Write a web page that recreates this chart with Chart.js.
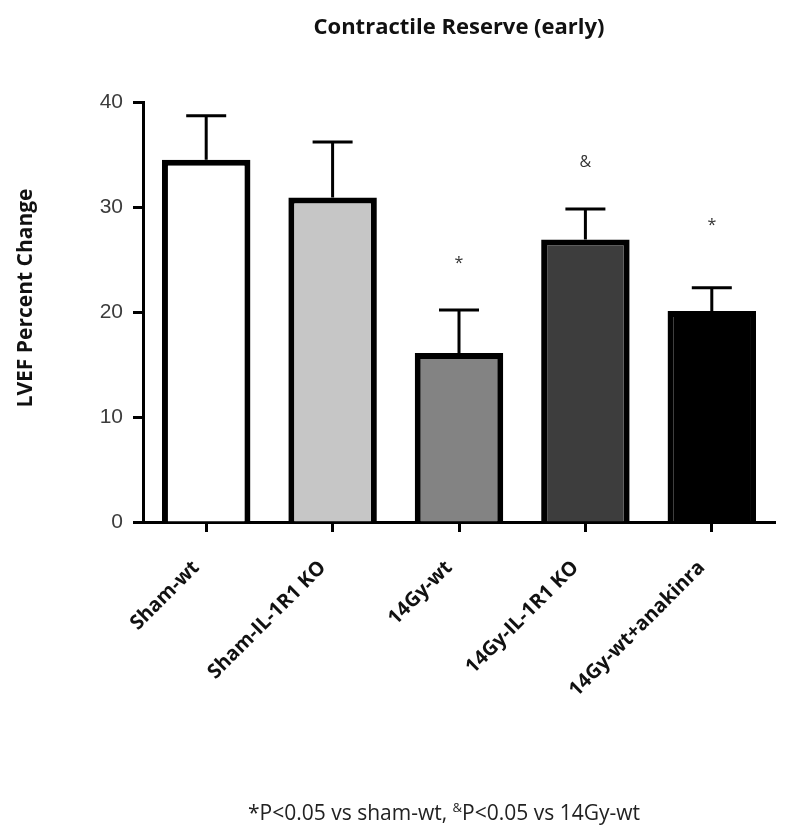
<!DOCTYPE html>
<html lang="en">

<head>
  <meta charset="UTF-8" />
  <meta name="viewport" content="width=device-width, initial-scale=1.0" />
  <title>Contractile Reserve (early)</title>
  <script src="https://cdn.jsdelivr.net/npm/chart.js"></script>
  <style>
    html,
    body {
      margin: 0;
      padding: 0;
      background-color: #ffffff;
    }

    .chart-box {
      width: 792px;
      height: 838px;
      position: relative;
    }
  </style>
</head>

<body>
  <div class="chart-box">
    <canvas id="reserveChart" width="792" height="838"></canvas>
  </div>

  <script>
    // values (LVEF percent change)
    const groups = ['Sham-wt', 'Sham-IL-1R1 KO', '14Gy-wt', '14Gy-IL-1R1 KO', '14Gy-wt+anakinra'];
    const meanChange = [34.5, 30.9, 16.1, 26.9, 20.1];
    const errorTop = [38.7, 36.2, 20.2, 29.8, 22.3];
    const sigMarks = ['', '', '*', '&', '*'];
    const sigLevel = [null, null, 24.6, 34.2, 28.2];
    const yTicks = [0, 10, 20, 30, 40];

    const LABEL_FONT = "'Open Sans', 'DejaVu Sans', sans-serif";

    // SEM whiskers + significance marks above each bar
    const errorBars = {
      id: 'errorBars',
      afterDatasetsDraw(chart) {
        const { ctx } = chart;
        const y = chart.scales.y;
        const meta = chart.getDatasetMeta(0);
        ctx.save();
        ctx.strokeStyle = '#000000';
        ctx.lineWidth = 3;
        meta.data.forEach((bar, i) => {
          const top = y.getPixelForValue(errorTop[i]);
          ctx.beginPath();
          ctx.moveTo(bar.x, bar.y);
          ctx.lineTo(bar.x, top);
          ctx.moveTo(bar.x - 20, top);
          ctx.lineTo(bar.x + 20, top);
          ctx.stroke();
          if (sigMarks[i]) {
            ctx.fillStyle = '#333333';
            ctx.font = '16px ' + LABEL_FONT;
            ctx.textAlign = 'center';
            ctx.textBaseline = 'middle';
            ctx.fillText(sigMarks[i], bar.x, y.getPixelForValue(sigLevel[i]));
          }
        });
        ctx.restore();
      }
    };

    // rotated y title and the footnote under the chart
    const extraText = {
      id: 'extraText',
      afterDraw(chart) {
        const { ctx } = chart;
        ctx.save();
        ctx.fillStyle = '#111111';
        ctx.font = 'bold 21px ' + LABEL_FONT;
        ctx.textAlign = 'center';
        ctx.textBaseline = 'middle';
        ctx.translate(26, 298);
        ctx.rotate(-Math.PI / 2);
        ctx.fillText('LVEF Percent Change', 0, 0);
        ctx.restore();

        ctx.save();
        ctx.fillStyle = '#222222';
        ctx.textBaseline = 'alphabetic';
        const partA = '*P<0.05 vs sham-wt, ';
        const sup = '&';
        const partB = 'P<0.05 vs 14Gy-wt';
        const mainFont = '21px ' + LABEL_FONT;
        const supFont = '13px ' + LABEL_FONT;
        ctx.font = mainFont;
        const wA = ctx.measureText(partA).width;
        const wB = ctx.measureText(partB).width;
        ctx.font = supFont;
        const wS = ctx.measureText(sup).width;
        let x = 444 - (wA + wS + wB) / 2;
        const base = 820;
        ctx.font = mainFont;
        ctx.fillText(partA, x, base);
        x += wA;
        ctx.font = supFont;
        ctx.fillText(sup, x, base - 8);
        x += wS;
        ctx.font = mainFont;
        ctx.fillText(partB, x, base);
        ctx.restore();
      }
    };

    new Chart(document.getElementById('reserveChart').getContext('2d'), {
      type: 'bar',
      data: {
        labels: groups,
        datasets: [{
          data: meanChange,
          backgroundColor: ['#ffffff', '#c6c6c6', '#838383', '#3d3d3d', '#000000'],
          borderColor: '#000000',
          borderWidth: 6,
          borderSkipped: 'start',
          categoryPercentage: 1,
          barPercentage: 0.7
        }]
      },
      plugins: [errorBars, extraText],
      options: {
        responsive: false,
        animation: false,
        layout: { padding: { left: 0, right: 17, top: 0, bottom: 0 } },
        plugins: {
          legend: { display: false },
          tooltip: { enabled: false },
          title: {
            display: true,
            fullSize: false,
            text: 'Contractile Reserve (early)',
            color: '#111111',
            font: { family: LABEL_FONT, size: 22, weight: 'bold' },
            padding: { top: 15, bottom: 60.6 }
          }
        },
        scales: {
          x: {
            afterFit(scale) { scale.height = 316; },
            grid: {
              offset: false,
              drawOnChartArea: false,
              drawTicks: true,
              tickLength: 10,
              tickWidth: 3,
              tickColor: '#000000'
            },
            border: { display: true, color: '#000000', width: 3 },
            ticks: {
              autoSkip: false,
              minRotation: 45,
              maxRotation: 45,
              padding: 24,
              labelOffset: -10,
              color: '#111111',
              font: { family: LABEL_FONT, size: 20, weight: 'bold' }
            }
          },
          y: {
            min: 0,
            max: 40,
            afterFit(scale) { scale.width = 143; },
            afterBuildTicks(scale) { scale.ticks = yTicks.map(v => ({ value: v })); },
            grid: {
              drawOnChartArea: false,
              drawTicks: true,
              tickLength: 10,
              tickWidth: 3,
              tickColor: '#000000'
            },
            border: { display: true, color: '#000000', width: 3 },
            ticks: {
              padding: 10,
              color: '#3c3c3c',
              font: { family: "'Liberation Sans', Arial, sans-serif", size: 21 }
            }
          }
        }
      }
    });
  </script>
</body>

</html>
